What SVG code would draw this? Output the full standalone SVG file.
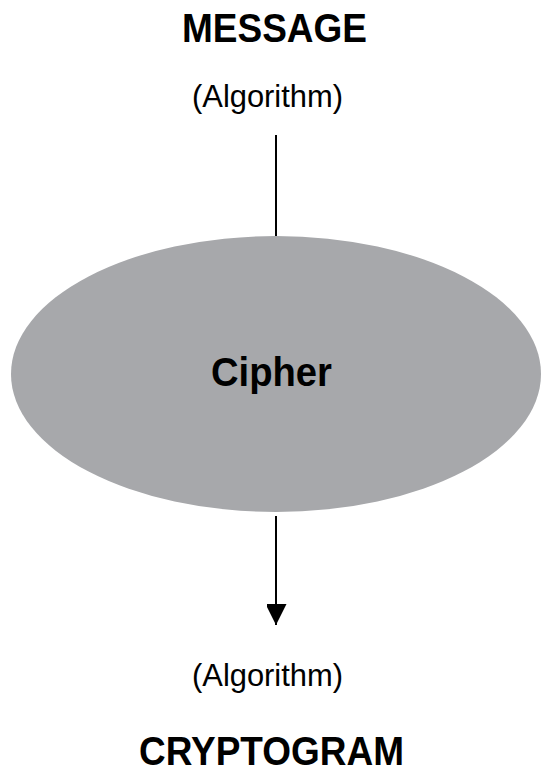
<svg xmlns="http://www.w3.org/2000/svg" width="552" height="776" viewBox="0 0 552 776">
<style>
.title{font-family:"Liberation Sans",Arial,sans-serif;font-weight:bold;font-size:41px;fill:#000}
.sub{font-family:"Liberation Sans",Arial,sans-serif;font-size:31px;fill:#000}
.conn{stroke:#000;stroke-width:2;fill:none}
</style>
<defs>
<marker id="arrow" markerUnits="userSpaceOnUse" markerWidth="22" markerHeight="20" refX="21" refY="10.5" orient="auto">
<path d="M0,0 L21,10.5 L0,21 Z" fill="#000"/>
</marker>
</defs>
<rect width="552" height="776" fill="#fff"/>
<g id="connectors">
<line class="conn" x1="276" y1="135" x2="276" y2="237"/>
<line class="conn" x1="276" y1="516" x2="276" y2="625" marker-end="url(#arrow)"/>
</g>
<g id="message">
<text class="title" x="182" y="42" textLength="185" lengthAdjust="spacingAndGlyphs">MESSAGE</text>
<text class="sub" x="192" y="107" textLength="151" lengthAdjust="spacingAndGlyphs">(Algorithm)</text>
</g>
<g id="cipher">
<ellipse cx="276" cy="374" rx="265" ry="138" fill="#a7a8ab"/>
<text class="title" x="211" y="386" textLength="121" lengthAdjust="spacingAndGlyphs">Cipher</text>
</g>
<g id="cryptogram">
<text class="sub" x="192" y="686" textLength="151" lengthAdjust="spacingAndGlyphs">(Algorithm)</text>
<text class="title" x="139" y="765" textLength="265" lengthAdjust="spacingAndGlyphs">CRYPTOGRAM</text>
</g>
</svg>
